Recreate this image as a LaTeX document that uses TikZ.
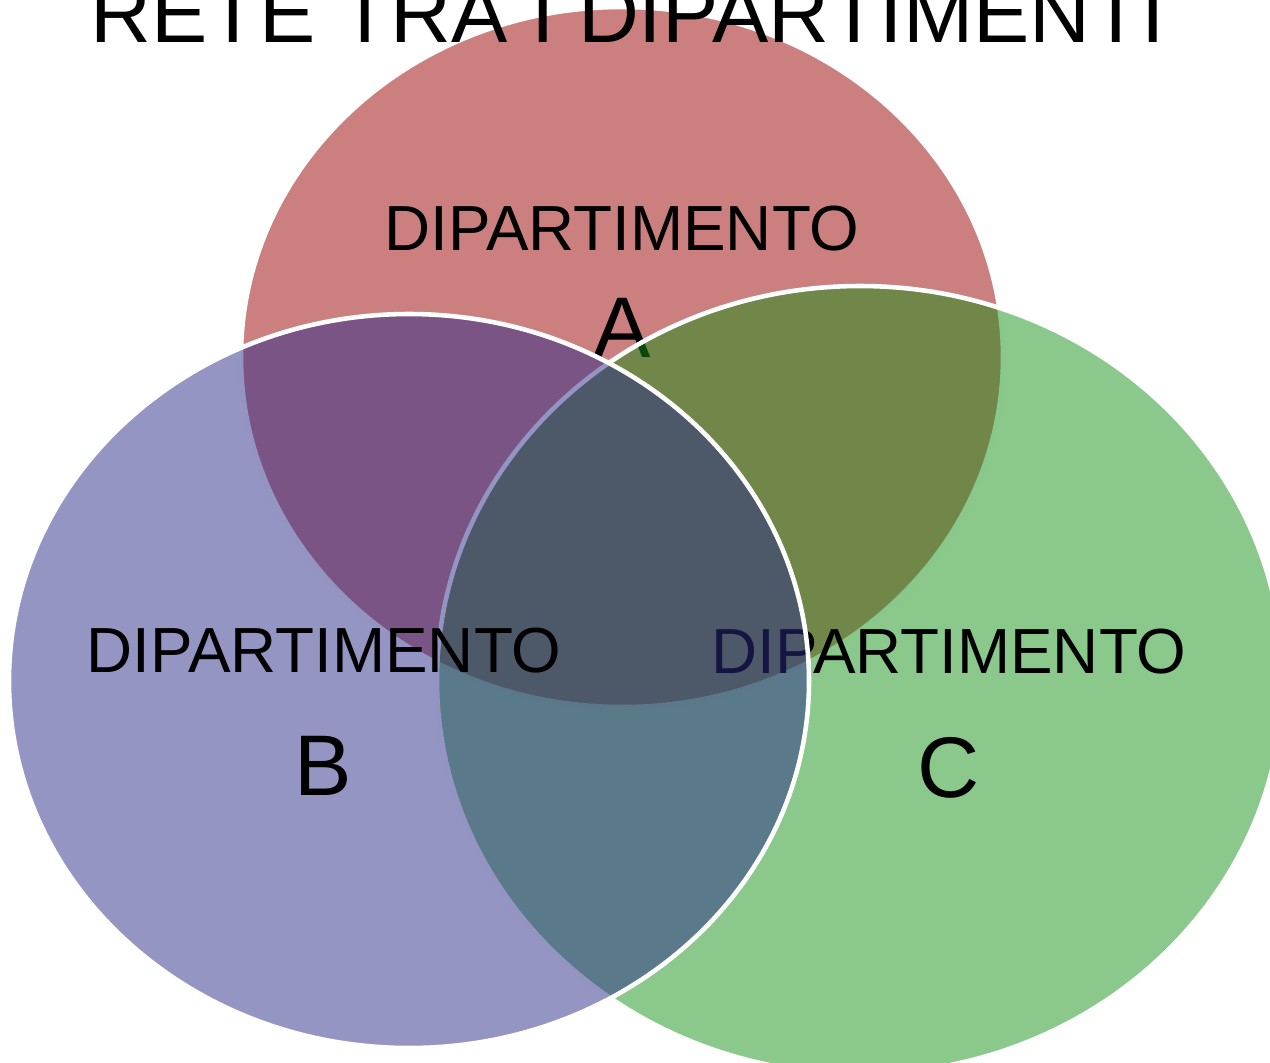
\documentclass[tikz,border=0pt]{standalone}
\usepackage{fontspec}
\setmainfont{Liberation Sans}
\usepackage{xcolor}
\usepackage{tikz}
\definecolor{deptA}{RGB}{153,0,0}
\definecolor{deptB}{RGB}{43,43,137}
\definecolor{deptC}{RGB}{23,145,23}

\begin{document}
\begin{tikzpicture}[x=0.02cm, y=-0.02cm,
  dept/.style={draw=white, line width=2.6pt, fill opacity=0.5},
  deptname/.style={anchor=base, inner sep=0pt, font=\fontsize{36.3}{40}\selectfont},
  deptletter/.style={anchor=base, inner sep=0pt, font=\fontsize{49}{55}\selectfont}]
\useasboundingbox (0,0) rectangle (1270,1062);
\clip (0,0) rectangle (1270,1062);
\draw[dept, fill=deptA] (622,357) ellipse [x radius=381, y radius=350];
\node[deptname] (nameA) at (622,250) {DIPARTIMENTO};
\node[deptletter] (letterA) at (622,357) {A};
\draw[dept, fill=deptC] (860,680) ellipse [x radius=423, y radius=394];
\node[deptname] (nameC) at (949,673) {DIPARTIMENTO};
\node[deptletter] (letterC) at (949,797) {C};
\draw[dept, fill=deptB] (409,681) ellipse [x radius=400, y radius=367];
\node[deptname] (nameB) at (324,672) {DIPARTIMENTO};
\node[deptletter] (letterB) at (323,795) {B};
\node[deptletter, font=\fontsize{48}{54}\selectfont] (title) at (628,42) {RETE TRA I DIPARTIMENTI};
\end{tikzpicture}
\end{document}
